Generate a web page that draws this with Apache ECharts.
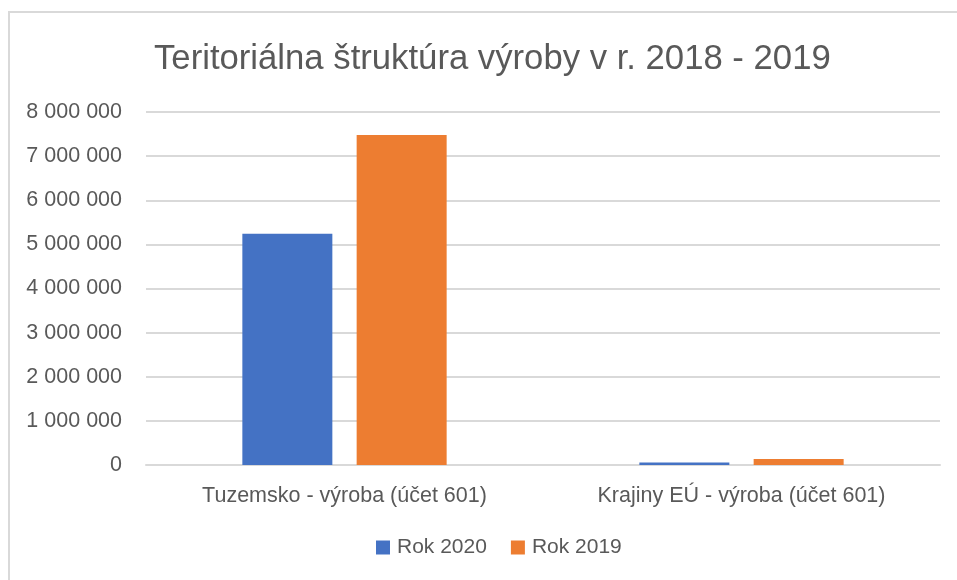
<!DOCTYPE html>
<html>
<head>
<meta charset="utf-8">
<script src="https://cdn.jsdelivr.net/npm/echarts@6/dist/echarts.min.js"></script>
<style>
html,body{margin:0;padding:0;background:#fff;}
#main_chart{width:957px;height:580px;}
</style>
</head>
<body>
<div id="main_chart"></div>
<script>
// kategorie a hodnoty
var categories = ['Tuzemsko - výroba (účet 601)', 'Krajiny EÚ - výroba (účet 601)'];
var seriesNames = ['Rok 2020', 'Rok 2019'];
var rok2020 = [5240000, 57000];
var rok2019 = [7480000, 136000];
var yTicks = [0, 1000000, 2000000, 3000000, 4000000, 5000000, 6000000, 7000000, 8000000];

function formatNum(v){
	return String(v).replace(/\B(?=(\d{3})+(?!\d))/g, ' ');
}

var myChart = echarts.init(document.getElementById('main_chart'));
var fontFam = 'Liberation Sans, Noto Sans, sans-serif';

var option = {
	animation: false,
	backgroundColor: '#ffffff',
	title: {
		text: 'Teritoriálna štruktúra výroby v r. 2018 - 2019',
		left: 149,
		top: 37,
		textStyle: {
			fontFamily: fontFam,
			fontSize: 34.7,
			fontWeight: 'normal',
			color: '#595959'
		}
	},
	graphic: [{
		type: 'polyline',
		shape: {points: [[9, 600], [9, 12], [980, 12]]},
		style: {stroke: '#d9d9d9', lineWidth: 2, fill: null},
		silent: true
	}],
	legend: {
		data: seriesNames,
		bottom: 17,
		left: 371,
		itemWidth: 14,
		itemHeight: 14,
		itemGap: 24,
		icon: 'rect',
		textStyle: {fontFamily: fontFam, fontSize: 21, color: '#595959', padding: [0, 0, 0, 2]}
	},
	grid: {
		top: 112,
		left: 146,
		right: 17,
		bottom: 115,
		containLabel: false
	},
	xAxis: {
		type: 'category',
		data: categories,
		axisLine: {lineStyle: {color: '#d9d9d9', width: 2}},
		axisTick: {show: false},
		axisLabel: {fontFamily: fontFam, fontSize: 21.5, color: '#595959', margin: 20}
	},
	yAxis: {
		type: 'value',
		min: yTicks[0],
		max: yTicks[yTicks.length - 1],
		interval: 1000000,
		axisLine: {show: false},
		axisTick: {show: false},
		splitLine: {lineStyle: {color: '#d9d9d9', width: 2}},
		axisLabel: {
			fontFamily: fontFam, fontSize: 21.5, color: '#595959', margin: 24,
			formatter: function(v){ return formatNum(v); }
		}
	},
	series: [{
		name: seriesNames[0],
		type: 'bar',
		data: rok2020,
		barWidth: 90,
		barGap: '27%',
		itemStyle: {color: '#4472c4'}
	}, {
		name: seriesNames[1],
		type: 'bar',
		data: rok2019,
		barWidth: 90,
		barGap: '27%',
		itemStyle: {color: '#ed7d31'}
	}]
};

myChart.setOption(option);
</script>
</body>
</html>
